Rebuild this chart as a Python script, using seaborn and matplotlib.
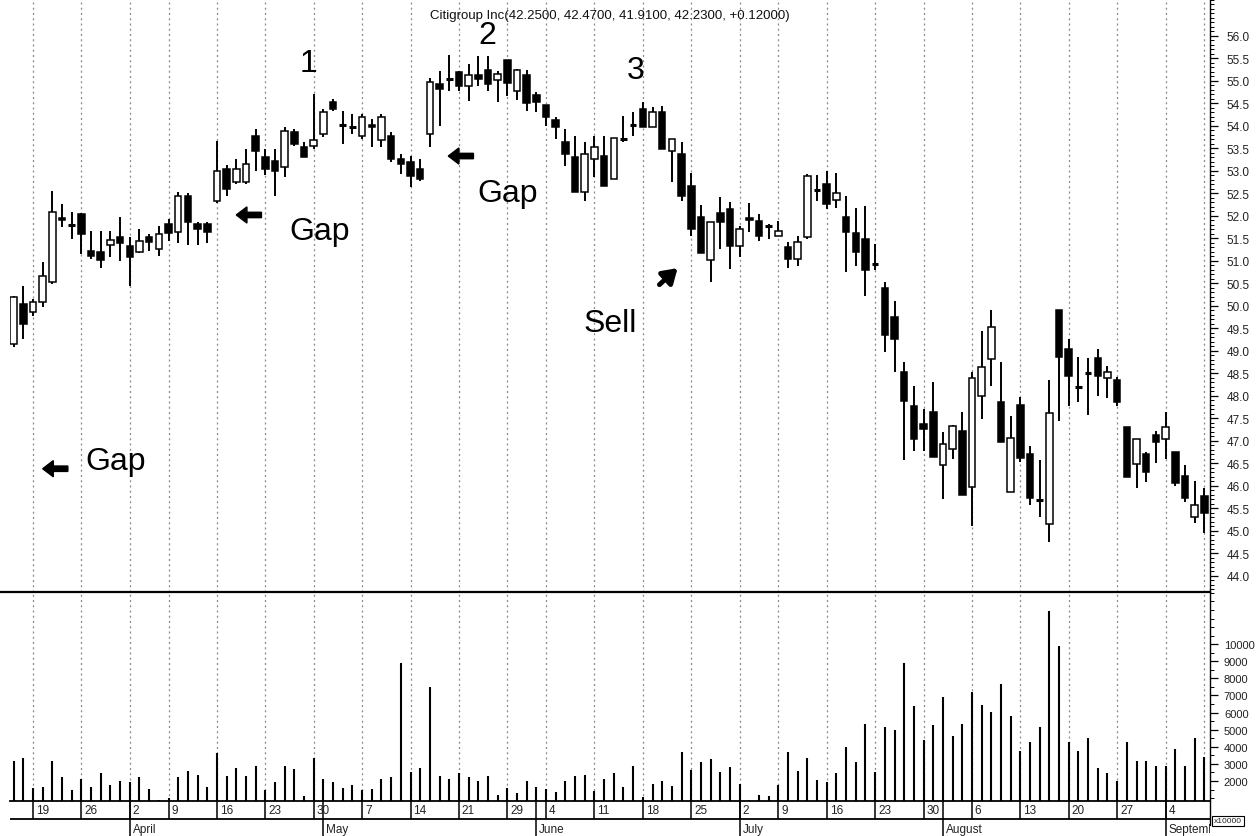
import matplotlib
matplotlib.use("Agg")
import matplotlib.pyplot as plt
import seaborn as sns
from matplotlib.patches import Rectangle, FancyArrow
from matplotlib.lines import Line2D
from matplotlib.ticker import MultipleLocator, FormatStrFormatter

sns.set_theme(style="white")
plt.rcParams['font.family'] = ['Liberation Sans', 'DejaVu Sans']

# ---- daily bars (trading-day index, first bar two sessions before 19 March) ----
first_index = -2
opens = [49.16, 50.04, 49.87, 50.09, 50.53, 51.95, 51.82, 52.04, 51.22, 51.20,
         51.36, 51.53, 51.33, 51.20, 51.53, 51.27, 51.82, 51.64, 52.44, 51.82,
         51.82, 52.33, 53.04, 52.76, 52.76, 53.78, 53.31, 53.22, 53.09, 53.87,
         53.53, 53.55, 53.82, 54.53, 54.04, 54.00, 53.78, 54.02, 53.69, 53.78,
         53.27, 53.20, 53.04, 53.82, 54.93, 55.06, 55.20, 54.89, 55.13, 55.24,
         55.02, 55.47, 54.78, 55.13, 54.69, 54.47, 54.13, 53.64, 53.31, 52.53,
         53.27, 53.33, 52.82, 53.71, 54.04, 54.38, 53.98, 54.31, 53.44, 53.38,
         52.67, 51.98, 51.02, 52.07, 52.16, 51.33, 51.95, 51.89, 51.80, 51.56,
         51.31, 51.04, 51.53, 52.58, 52.71, 52.36, 51.98, 51.62, 51.49, 50.95,
         50.40, 49.76, 48.53, 47.78, 47.38, 47.64, 46.47, 46.82, 47.22, 45.98,
         48.00, 48.82, 47.87, 45.87, 47.80, 46.71, 45.69, 45.16, 49.91, 49.04,
         48.20, 48.53, 48.84, 48.40, 48.36, 47.31, 46.49, 46.71, 47.13, 47.04,
         46.76, 46.22, 45.31, 45.78]
highs = [50.22, 50.44, 50.16, 50.98, 52.56, 52.27, 52.09, 52.07, 51.67, 51.67,
         51.67, 51.98, 51.53, 51.71, 51.60, 51.78, 51.93, 52.53, 52.51, 51.87,
         51.87, 53.67, 53.13, 53.27, 53.49, 53.93, 53.49, 53.49, 53.98, 53.93,
         53.64, 54.71, 54.38, 54.60, 54.33, 54.27, 54.27, 54.16, 54.27, 53.87,
         53.38, 53.33, 53.27, 55.07, 55.22, 55.58, 55.22, 55.38, 55.56, 55.56,
         55.22, 55.47, 55.27, 55.24, 54.76, 54.47, 54.20, 53.93, 53.78, 53.64,
         53.78, 53.78, 53.73, 54.22, 54.31, 54.53, 54.42, 54.44, 53.71, 53.64,
         52.96, 52.24, 51.87, 52.42, 52.31, 51.78, 52.29, 52.04, 51.82, 51.89,
         51.42, 51.56, 52.93, 52.91, 53.00, 52.96, 52.44, 52.18, 52.22, 51.38,
         50.53, 50.11, 48.76, 48.22, 47.71, 48.31, 47.20, 47.36, 47.64, 48.53,
         49.44, 49.91, 48.76, 47.56, 47.98, 46.89, 46.58, 48.36, 49.91, 49.27,
         48.87, 48.84, 49.04, 48.67, 48.42, 47.31, 47.04, 46.76, 47.22, 47.64,
         46.76, 46.47, 46.11, 45.96]
lows = [49.09, 49.27, 49.78, 49.98, 50.49, 51.76, 51.49, 51.16, 51.04, 50.84,
        51.09, 51.00, 50.44, 51.18, 51.22, 51.11, 51.44, 51.40, 51.36, 51.36,
        51.40, 52.29, 52.44, 52.70, 52.71, 53.00, 52.91, 52.44, 52.87, 53.55,
        53.30, 53.49, 53.76, 54.33, 53.60, 53.82, 53.70, 53.53, 53.53, 53.20,
        52.93, 52.64, 52.78, 53.53, 54.00, 54.78, 54.78, 54.56, 54.89, 54.78,
        54.53, 54.67, 54.58, 54.33, 54.31, 54.00, 53.71, 53.11, 52.53, 52.33,
        52.87, 52.67, 52.82, 53.64, 53.78, 53.98, 53.98, 53.49, 52.76, 52.33,
        51.56, 51.18, 50.53, 51.27, 50.82, 51.09, 51.64, 51.44, 51.49, 51.56,
        50.84, 50.89, 51.49, 52.33, 52.16, 52.18, 50.76, 50.89, 50.22, 50.80,
        48.98, 48.53, 46.58, 46.78, 46.78, 46.64, 45.71, 46.60, 45.80, 45.11,
        47.49, 48.22, 46.98, 45.87, 46.53, 45.58, 45.31, 44.76, 47.44, 47.78,
        47.87, 47.58, 48.00, 47.96, 47.78, 46.20, 45.96, 46.09, 46.51, 46.60,
        46.00, 45.64, 45.18, 44.96]
closes = [50.20, 49.60, 50.09, 50.67, 52.09, 51.91, 51.78, 51.60, 51.11, 51.02,
          51.47, 51.40, 51.09, 51.44, 51.42, 51.60, 51.62, 52.44, 51.87, 51.71,
          51.64, 53.00, 52.60, 53.04, 53.16, 53.44, 53.04, 53.00, 53.89, 53.60,
          53.31, 53.69, 54.31, 54.38, 54.00, 53.96, 54.20, 53.98, 54.20, 53.27,
          53.16, 52.89, 52.82, 54.98, 54.82, 55.02, 54.89, 55.13, 55.04, 54.93,
          55.16, 54.96, 55.24, 54.51, 54.53, 54.20, 53.98, 53.38, 52.53, 53.38,
          53.53, 52.67, 53.73, 53.69, 54.00, 53.98, 54.31, 53.49, 53.71, 52.44,
          51.71, 51.18, 51.87, 51.87, 51.33, 51.71, 51.91, 51.56, 51.76, 51.67,
          51.04, 51.42, 52.89, 52.56, 52.27, 52.51, 51.64, 51.20, 50.80, 50.93,
          49.36, 49.27, 47.89, 47.04, 47.27, 46.64, 46.93, 47.33, 45.80, 48.40,
          48.64, 49.53, 46.98, 47.07, 46.62, 45.73, 45.67, 47.62, 48.87, 48.44,
          48.18, 48.49, 48.44, 48.53, 47.87, 46.20, 47.04, 46.31, 46.98, 47.31,
          46.07, 45.73, 45.58, 45.40]
volumes = [3170, 3345, 1590, 1650, 3170, 2234, 1474, 2117, 1650, 2468,
           1766, 2000, 1942, 2234, 1532, 889, 1006, 2234, 2585, 2351,
           1650, 3637, 2292, 2760, 2292, 2877, 1474, 1942, 2877, 2702,
           1123, 3345, 2117, 1942, 1590, 1766, 1474, 1532, 2117, 2234,
           8900, 2526, 2760, 7497, 2292, 2117, 2468, 2234, 2000, 2292,
           1181, 1590, 1298, 2000, 1650, 1532, 1357, 2000, 2292, 2351,
           1415, 2117, 2468, 1650, 2877, 1064, 1825, 2000, 1708, 3696,
           2643, 3111, 3287, 2526, 2819, 1825, 889, 1181, 1123, 1766,
           3696, 2585, 3345, 2058, 1942, 2468, 3988, 3111, 5333, 2526,
           5158, 4982, 8900, 6386, 4397, 5275, 6912, 4632, 5333, 7205,
           6445, 6035, 7672, 5801, 3754, 4281, 5158, 11942, 9895, 4281,
           3754, 4515, 2760, 2468, 2000, 4281, 3170, 3170, 2877, 2877,
           3871, 2877, 4515, 3404]

# week starts (trading-day index) and day-of-month labels
week_index = [0, 5, 10, 14, 19, 24, 29, 34, 39, 44, 49, 53, 58,
              63, 68, 73, 77, 82, 87, 92, 97, 102, 107, 112, 117, 121]
week_labels = ['19', '26', '2', '9', '16', '23', '30', '7', '14', '21', '29', '4', '11',
               '18', '25', '2', '9', '16', '23', '30', '6', '13', '20', '27', '4', '10']
month_index = [10, 30, 52, 73, 94, 117]
month_labels = ['April', 'May', 'June', 'July', 'August', 'September']

price_ticks_lo, price_ticks_hi = 44.0, 56.0
volume_ticks = [2000, 3000, 4000, 5000, 6000, 7000, 8000, 9000, 10000]

title = 'Citigroup Inc(42.2500, 42.4700, 41.9100, 42.2300, +0.12000)'

# ---- figure geometry ----
W, H = 1260, 837
fig = plt.figure(figsize=(W / 100, H / 100), dpi=100)
fig.patch.set_facecolor('white')
left, width = 10 / W, 1200 / W
ax_p = fig.add_axes([left, 1 - 593 / H, width, 593 / H])
ax_v = fig.add_axes([left, 1 - 802 / H, width, 209 / H], sharex=ax_p)
ax_d = fig.add_axes([left, 0, width, 35 / H], sharex=ax_p)

n = len(opens)
xs = list(range(first_index, first_index + n))
xmin, xmax = -2.376, 121.59
ax_p.set_xlim(xmin, xmax)

grid_kw = dict(color='#8a8a8a', lw=0.9, ls=(0, (1.6, 2.6)), zorder=0)
for wi in week_index:
    ax_p.axvline(wi, **grid_kw)
    ax_v.axvline(wi, **grid_kw)

# ---- candlesticks ----
body_w = 0.68
for x, o, h, l, c in zip(xs, opens, highs, lows, closes):
    ax_p.vlines(x, l, h, color='black', lw=1.4, zorder=2)
    lo_b, hi_b = min(o, c), max(o, c)
    if hi_b - lo_b < 0.04:
        ax_p.hlines((o + c) / 2, x - body_w / 2, x + body_w / 2, color='black', lw=2.2, zorder=3)
    else:
        face = 'white' if c > o else 'black'
        ax_p.add_patch(Rectangle((x - body_w / 2, lo_b), body_w, hi_b - lo_b,
                                 facecolor=face, edgecolor='black', lw=1.1, zorder=3))

ax_p.set_ylim(43.64, 56.82)

# ---- volume ----
v_floor = 830
ax_v.set_ylim(v_floor, 13053)
ax_v.vlines(xs, v_floor, volumes, color='black', lw=1.5, zorder=2)

# ---- axes styling ----
sns.despine(ax=ax_p, left=True, bottom=True, top=True, right=False)
sns.despine(ax=ax_v, left=True, bottom=False, top=True, right=False)
for ax, pad, size in ((ax_p, 6, 8.5), (ax_v, 4, 8)):
    ax.spines['right'].set_linewidth(1.0)
    ax.spines['right'].set_color('black')
    ax.yaxis.tick_right()
    ax.tick_params(axis='x', which='both', bottom=False, labelbottom=False)
    ax.tick_params(axis='y', which='major', direction='out', length=6, width=0.9,
                   color='black', pad=pad, labelsize=size, labelcolor='#222222')
    ax.tick_params(axis='y', which='minor', direction='out', length=3, width=0.7,
                   color='black', right=True)
ax_v.spines['bottom'].set_linewidth(1.3)
ax_v.spines['bottom'].set_color('black')

ax_p.yaxis.set_major_locator(MultipleLocator(0.5))
ax_p.yaxis.set_minor_locator(MultipleLocator(0.1))
ax_p.yaxis.set_major_formatter(FormatStrFormatter('%.1f'))
ax_p.set_yticks([t / 2 for t in range(int(price_ticks_lo * 2), int(price_ticks_hi * 2) + 1)])
ax_v.set_yticks(volume_ticks)
ax_v.yaxis.set_minor_locator(MultipleLocator(500))
ax_v.set_yticklabels([str(v) for v in volume_ticks])

# separator between price and volume panes
fig.add_artist(Line2D([0, 1210 / W], [1 - 593 / H, 1 - 593 / H], color='black', lw=1.6))

# ---- date strip ----
ax_d.set_ylim(35, 0)
ax_d.axis('off')
ax_d.hlines(18, xmin, xmax, color='black', lw=1.3)
for wi, lab in zip(week_index, week_labels):
    if wi > 120:
        continue
    ax_d.vlines(wi, 0, 18, color='black', lw=1.1)
    ax_d.text(wi + 0.3, 9.5, lab, fontsize=8.5, ha='left', va='center', color='#222222', clip_on=True)
for mi, lab in zip(month_index, month_labels):
    ax_d.vlines(mi, 0, 35, color='black', lw=1.1)
    ax_d.text(mi + 0.3, 28, lab, fontsize=8.5, ha='left', va='center', color='#222222', clip_on=True)
fig.add_artist(Line2D([1210 / W, 1210 / W], [1 - 826 / H, 1 - 802 / H], color='black', lw=1.0))
fig.text(1214 / W, 1 - 822 / H, 'x10000', fontsize=6, ha='left', va='center',
         bbox=dict(boxstyle='square,pad=0.2', fc='white', ec='black', lw=0.8))

# ---- title ----
fig.text(610 / W, 1 - 16 / H, title, fontsize=9.5, ha='center', va='center', color='#111111')

# ---- annotations ----
big = dict(fontsize=23, color='black', ha='center', va='baseline')
ax_p.text(28.5, 55.22, '1', **big)
ax_p.text(46.9, 55.85, '2', **big)
ax_p.text(62.3, 55.07, '3', **big)
ax_p.text(29.6, 51.49, 'Gap', **big)
ax_p.text(49.0, 52.33, 'Gap', **big)
ax_p.text(8.5, 46.38, 'Gap', **big)
ax_p.text(59.6, 49.45, 'Sell', **big)

arrow_kw = dict(width=0.12, head_width=0.36, head_length=1.1, length_includes_head=True,
                color='black', zorder=4)
ax_p.add_patch(FancyArrow(23.6, 52.02, -2.6, 0, **arrow_kw))
ax_p.add_patch(FancyArrow(45.5, 53.33, -2.6, 0, **arrow_kw))
ax_p.add_patch(FancyArrow(3.6, 46.38, -2.6, 0, **arrow_kw))
ax_p.annotate('', xy=(66.8, 50.88), xytext=(64.5, 50.43),
              arrowprops=dict(arrowstyle='-|>,head_width=0.45,head_length=0.7', lw=3.5, color='black'))

fig.savefig('out.png', dpi=100, facecolor='white')
